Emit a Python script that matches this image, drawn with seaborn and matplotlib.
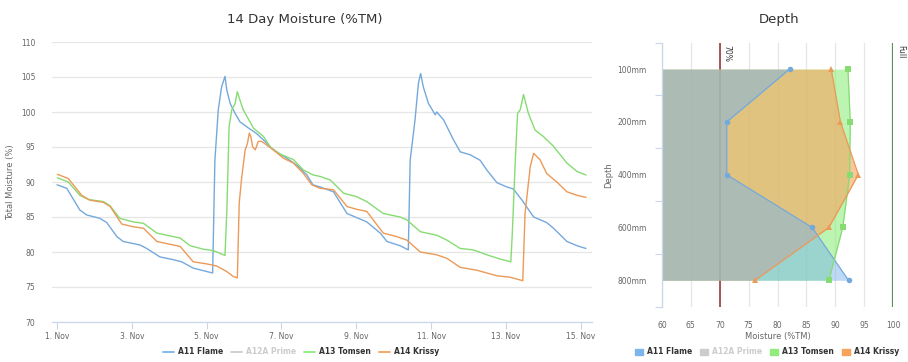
import pandas as pd
import matplotlib
matplotlib.use("Agg")
import matplotlib.pyplot as plt
from matplotlib.lines import Line2D
from matplotlib.patches import Patch
import seaborn as sns

# --- 14 day moisture series (day of November, % total moisture) ---
flame_days = [1.00, 1.26, 1.61, 1.79, 2.15, 2.33, 2.60, 2.77, 3.22, 3.40, 3.75, 4.11, 4.33, 4.64,
              5.16, 5.22, 5.31, 5.40, 5.49, 5.54, 5.63, 5.76, 5.89, 6.12, 6.34, 6.56, 6.78, 7.14,
              7.41, 7.68, 7.84, 8.03, 8.39, 8.75, 9.06, 9.28, 9.64, 9.82, 10.17, 10.39, 10.44,
              10.57, 10.66, 10.72, 10.79, 10.93, 11.11, 11.15, 11.33, 11.60, 11.78, 12.04, 12.31,
              12.49, 12.76, 13.02, 13.20, 13.43, 13.74, 14.09, 14.27, 14.63, 14.90, 15.14]
flame_vals = [89.6, 89.1, 86.0, 85.3, 84.8, 84.2, 82.2, 81.5, 81.0, 80.5, 79.3, 78.9, 78.6, 77.7,
              77.0, 93.1, 100.3, 103.6, 105.1, 103.1, 101.2, 99.8, 98.6, 97.7, 96.9, 95.8, 94.6, 93.4,
              92.4, 91.0, 89.6, 89.3, 88.6, 85.5, 84.8, 84.3, 82.7, 81.5, 80.9, 80.3, 93.1,
              98.9, 104.1, 105.5, 103.6, 101.2, 99.6, 100.0, 98.9, 96.0, 94.3, 93.9, 93.1,
              91.7, 89.9, 89.3, 89.0, 87.4, 85.0, 84.2, 83.4, 81.5, 80.9, 80.5]

tomsen_days = [1.01, 1.30, 1.61, 1.84, 2.24, 2.42, 2.68, 3.04, 3.31, 3.67, 4.02, 4.29, 4.56, 4.91,
               5.18, 5.49, 5.54, 5.60, 5.67, 5.76, 5.82, 5.89, 5.98, 6.25, 6.52, 6.70, 6.96, 7.32,
               7.59, 7.85, 8.03, 8.30, 8.66, 9.01, 9.28, 9.72, 10.17, 10.35, 10.71, 11.15, 11.42,
               11.78, 12.13, 12.49, 12.84, 13.13, 13.17, 13.25, 13.31, 13.38, 13.47, 13.60, 13.78,
               14.00, 14.27, 14.63, 14.90, 15.14]
tomsen_vals = [90.6, 90.0, 88.1, 87.5, 87.2, 86.6, 84.8, 84.3, 84.1, 82.7, 82.3, 82.0, 80.9, 80.4,
               80.2, 79.5, 86.0, 97.9, 100.3, 101.2, 102.9, 101.7, 100.3, 97.7, 96.5, 95.0, 94.0, 93.2,
               91.7, 91.0, 90.8, 90.3, 88.4, 87.9, 87.2, 85.5, 85.0, 84.6, 82.9, 82.4, 81.7,
               80.5, 80.3, 79.6, 79.0, 78.6, 82.7, 93.1, 99.8, 100.3, 102.5, 99.8, 97.4,
               96.5, 95.1, 92.7, 91.5, 91.0]

krissy_days = [1.01, 1.30, 1.66, 1.88, 2.24, 2.42, 2.73, 3.04, 3.31, 3.67, 4.02, 4.29, 4.64, 5.00,
               5.27, 5.54, 5.71, 5.82, 5.87, 5.94, 6.03, 6.09, 6.14, 6.18, 6.23, 6.30, 6.38, 6.47,
               6.78, 7.05, 7.32, 7.59, 7.81, 8.03, 8.39, 8.75, 9.01, 9.28, 9.72, 10.08, 10.35,
               10.71, 11.15, 11.42, 11.78, 12.22, 12.49, 12.76, 13.11, 13.45, 13.51, 13.65, 13.74,
               13.83, 13.91, 14.09, 14.36, 14.63, 14.90, 15.14]
krissy_vals = [91.1, 90.5, 88.1, 87.4, 87.1, 86.5, 84.0, 83.6, 83.4, 81.5, 81.1, 80.8, 78.6, 78.3,
               78.0, 77.2, 76.5, 76.3, 87.0, 90.8, 94.6, 95.5, 97.0, 96.5, 95.0, 94.6, 95.8, 95.8,
               94.6, 93.4, 92.7, 91.2, 89.6, 89.1, 88.9, 86.5, 86.1, 85.8, 82.7, 82.2, 81.7,
               80.0, 79.6, 79.1, 77.8, 77.4, 77.0, 76.6, 76.4, 75.9, 85.5, 92.2, 94.1,
               93.6, 93.2, 91.2, 90.0, 88.6, 88.1, 87.8]

series_names = ["A11 Flame", "A12A Prime", "A13 Tomsen", "A14 Krissy"]
tick_days = [1, 3, 5, 7, 9, 11, 13, 15]
tick_labels = ["1. Nov", "3. Nov", "5. Nov", "7. Nov", "9. Nov", "11. Nov", "13. Nov", "15. Nov"]

# --- depth profile (% TM per depth) ---
depths = ["100mm", "200mm", "400mm", "600mm", "800mm"]
flame_depth = [82.1, 71.2, 71.2, 86.0, 92.3]
tomsen_depth = [92.2, 92.6, 92.5, 91.3, 88.9]
krissy_depth = [89.3, 90.9, 94.0, 88.9, 76.1]

colors = {"A11 Flame": "#7cb5ec", "A12A Prime": "#cccccc",
          "A13 Tomsen": "#90ed7d", "A14 Krissy": "#f7a35c"}
line_cols = {"A11 Flame": "#75a9dc", "A13 Tomsen": "#86dc72", "A14 Krissy": "#eb9a58"}

sns.set_theme(style="white")
plt.rcParams['font.family'] = ['DejaVu Sans']

fig = plt.figure(figsize=(9.08, 3.62), dpi=100)
ax1 = fig.add_axes([52 / 908, 1 - 322 / 362, 540 / 908, 280 / 362])
ax2 = fig.add_axes([662 / 908, 1 - 306.7 / 362, 231 / 908, 264 / 362])

# ---------- left: line chart ----------
df = pd.concat([
    pd.DataFrame({"day": flame_days, "moisture": flame_vals, "sensor": "A11 Flame"}),
    pd.DataFrame({"day": tomsen_days, "moisture": tomsen_vals, "sensor": "A13 Tomsen"}),
    pd.DataFrame({"day": krissy_days, "moisture": krissy_vals, "sensor": "A14 Krissy"}),
])
sns.lineplot(data=df, x="day", y="moisture", hue="sensor", palette=line_cols,
             linewidth=1.0, sort=False, legend=False, ax=ax1)

ax1.set_xlim(0.866, 15.30)
ax1.set_ylim(70, 110)
ax1.set_yticks(range(70, 111, 5))
ax1.set_xticks(tick_days)
ax1.set_xticklabels(tick_labels)
ax1.yaxis.grid(True, color="#e6e6e6", linewidth=0.9)
ax1.set_axisbelow(True)
for s in ["top", "right", "left"]:
    ax1.spines[s].set_visible(False)
ax1.spines["bottom"].set_color("#ccd6eb")
ax1.spines["bottom"].set_linewidth(0.9)
ax1.tick_params(axis="x", bottom=True, length=5, width=0.8, color="#ccd6eb",
                labelsize=5.5, labelcolor="#666666", pad=2)
ax1.tick_params(axis="y", left=False, labelsize=5.5, labelcolor="#666666", pad=6)
ax1.set_xlabel("")
ax1.set_ylabel("Total Moisture (%)", fontsize=6, color="#666666", labelpad=4)
fig.text(305 / 908, 1 - 20 / 362, "14 Day Moisture (%TM)", ha="center", va="center",
         fontsize=9.5, color="#333333")

# ---------- right: depth profile ----------
pos = list(range(len(depths)))
# fills stacked green, orange, then blue on top
for name, vals, a in [("A13 Tomsen", tomsen_depth, 0.6), ("A14 Krissy", krissy_depth, 0.6),
                      ("A11 Flame", flame_depth, 0.5)]:
    ax2.fill_betweenx(pos, 60, vals, color=colors[name], alpha=a, linewidth=0, zorder=2)

markers = {"A11 Flame": "o", "A13 Tomsen": "s", "A14 Krissy": "^"}
for name, vals in [("A11 Flame", flame_depth), ("A13 Tomsen", tomsen_depth),
                   ("A14 Krissy", krissy_depth)]:
    ddf = pd.DataFrame({"moisture": vals, "depth": pos})
    sns.lineplot(data=ddf, x="moisture", y="depth", orient="y", sort=False,
                 color=line_cols[name], linewidth=0.9, marker=markers[name],
                 markersize=4, markeredgewidth=0, ax=ax2, zorder=3)

ax2.axvline(70, color="#9b3a3a", linewidth=1.2, zorder=1)
ax2.axvline(100, color="#5e8f5a", linewidth=1.6, zorder=1)
ax2.text(70.4, -0.45, "70%", rotation=-90, fontsize=5.5, color="#333333",
         ha="left", va="top")
ax2.text(100.5, -0.45, "Full", rotation=-90, fontsize=5.5, color="#333333",
         ha="left", va="top")

ax2.set_xlim(60, 100)
ax2.set_ylim(4.5, -0.5)
ax2.set_xticks(range(60, 101, 5))
ax2.set_yticks(pos)
ax2.set_yticklabels(depths)
ax2.set_yticks([p - 0.5 for p in pos] + [4.5], minor=True)
ax2.xaxis.grid(True, color="#e6e6e6", linewidth=0.9, zorder=0)
ax2.set_axisbelow(True)
for s in ["top", "right", "bottom"]:
    ax2.spines[s].set_visible(False)
ax2.spines["left"].set_color("#ccd6eb")
ax2.spines["left"].set_linewidth(0.9)
ax2.tick_params(axis="x", bottom=False, labelsize=5.5, labelcolor="#666666", pad=4)
ax2.tick_params(axis="y", which="major", left=False, labelsize=5.5, labelcolor="#666666", pad=5)
ax2.tick_params(axis="y", which="minor", left=True, length=5, width=0.8, color="#ccd6eb")
ax2.set_xlabel("Moisture (%TM)", fontsize=6, color="#666666", labelpad=2)
ax2.set_ylabel("Depth", fontsize=6, color="#666666", labelpad=3)
fig.text(779 / 908, 1 - 20 / 362, "Depth", ha="center", va="center",
         fontsize=9.5, color="#333333")

# ---------- legends ----------
line_handles = [Line2D([], [], color=colors[n], linewidth=1.3) for n in series_names]
leg1 = fig.legend(line_handles, series_names, loc="center", ncol=4,
                  bbox_to_anchor=(301 / 908, 1 - 352 / 362), frameon=False,
                  prop={"size": 5.5, "weight": "bold"}, handlelength=1.4,
                  handletextpad=0.5, columnspacing=1.1)
patch_handles = [Patch(color=colors[n]) for n in series_names]
leg2 = fig.legend(patch_handles, series_names, loc="center", ncol=4,
                  bbox_to_anchor=(767 / 908, 1 - 352 / 362), frameon=False,
                  prop={"size": 5.5, "weight": "bold"}, handlelength=1.1, handleheight=0.9,
                  handletextpad=0.5, columnspacing=1.0)
for leg in (leg1, leg2):
    for t, n in zip(leg.get_texts(), series_names):
        t.set_color("#cccccc" if n == "A12A Prime" else "#333333")

fig.savefig("out.png", dpi=100)
